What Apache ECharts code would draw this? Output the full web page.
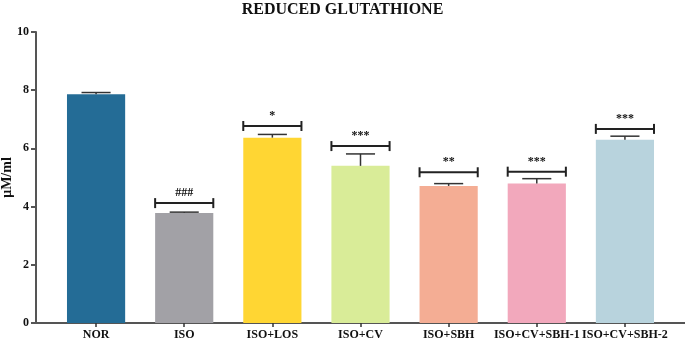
<!DOCTYPE html>
<html>
<head>
<meta charset="utf-8">
<script src="https://cdn.jsdelivr.net/npm/echarts@6/dist/echarts.min.js"></script>
<style>
  html, body { margin: 0; padding: 0; background: #fff; }
  #chart { width: 685px; height: 341px; }
</style>
</head>
<body>
<div id="chart"></div>
<script>
const groups = ["NOR", "ISO", "ISO+LOS", "ISO+CV", "ISO+SBH", "ISO+CV+SBH-1", "ISO+CV+SBH-2"];
const means = [7.86, 3.78, 6.37, 5.4, 4.71, 4.79, 6.3];
const errors = [0.06, 0.03, 0.11, 0.41, 0.08, 0.17, 0.12];
const colors = ["#246C96", "#A2A1A6", "#FFD633", "#D9EC98", "#F4AD94", "#F2A8BC", "#B8D3DD"];
const marks = ["", "###", "*", "***", "**", "***", "***"];
const markLevel = [null, 4.12, 6.77, 6.08, 5.18, 5.2, 6.67];
const yTicks = [0, 2, 4, 6, 8, 10];

const serif = "'Liberation Serif', 'DejaVu Serif', serif";

const chart = echarts.init(document.getElementById("chart"));

const option = {
  animation: false,
  title: {
    text: "REDUCED GLUTATHIONE",
    left: "center",
    top: -3,
    textStyle: { fontFamily: serif, fontWeight: "bold", fontSize: 16, color: "#111" }
  },
  grid: [
    { left: 36, right: 0, top: 32, bottom: 18, outerBoundsMode: "none", containLabel: false },
    { left: 52, right: 16, top: 32, bottom: 18, outerBoundsMode: "none", containLabel: false }
  ],
  xAxis: [
    {
      gridIndex: 0, type: "value", min: 0, max: 1,
      axisLine: { show: true, lineStyle: { color: "#555", width: 2 } },
      axisTick: { show: false }, axisLabel: { show: false }, splitLine: { show: false }
    },
    {
      gridIndex: 1, type: "category", data: groups,
      axisLine: { show: false },
      axisTick: { show: true, alignWithLabel: true, length: 4, lineStyle: { color: "#333", width: 1.5 } },
      axisLabel: { fontFamily: serif, fontWeight: "bold", fontSize: 12, color: "#111", margin: 6, interval: 0 }
    }
  ],
  yAxis: [
    {
      gridIndex: 0, type: "value", min: 0, max: 10, interval: 2,
      name: "μM/ml", nameLocation: "middle", nameGap: 22, nameMoveOverlap: false,
      nameTextStyle: { fontFamily: serif, fontWeight: "bold", fontSize: 14, color: "#111" },
      axisLine: { show: true, lineStyle: { color: "#555", width: 2 } },
      axisTick: { show: true, length: 5, lineStyle: { color: "#555", width: 2 } },
      axisLabel: {
        fontFamily: serif, fontWeight: "bold", fontSize: 12, color: "#111", margin: 7,
        formatter: v => (yTicks.includes(v) ? String(v) : "")
      },
      splitLine: { show: false }
    },
    {
      gridIndex: 1, type: "value", min: 0, max: 10, show: false
    }
  ],
  series: [
    {
      type: "bar",
      xAxisIndex: 1, yAxisIndex: 1,
      barWidth: "66%",
      data: means.map((v, i) => ({ value: v, itemStyle: { color: colors[i] } })),
      z: 2
    },
    {
      // error bars (upper only)
      type: "custom",
      xAxisIndex: 1, yAxisIndex: 1,
      data: means.map((v, i) => [i, v, v + errors[i]]),
      renderItem: (params, api) => {
        const top = api.coord([api.value(0), api.value(1)]);
        const hi = api.coord([api.value(0), api.value(2)]);
        const half = api.size([1, 0])[0] * 0.66 / 4;
        const st = { stroke: "#333", lineWidth: 1.5 };
        return {
          type: "group",
          children: [
            { type: "line", shape: { x1: top[0], y1: top[1], x2: hi[0], y2: hi[1] }, style: st },
            { type: "line", shape: { x1: hi[0] - half, y1: hi[1], x2: hi[0] + half, y2: hi[1] }, style: st }
          ]
        };
      },
      z: 3
    },
    {
      // significance brackets with marks
      type: "custom",
      xAxisIndex: 1, yAxisIndex: 1,
      data: markLevel.map((v, i) => [i, v]).filter(d => d[1] != null),
      renderItem: (params, api) => {
        const idx = api.value(0);
        const p = api.coord([idx, api.value(1)]);
        const half = api.size([1, 0])[0] * 0.66 / 2;
        const st = { stroke: "#222", lineWidth: 2 };
        return {
          type: "group",
          children: [
            { type: "line", shape: { x1: p[0] - half, y1: p[1], x2: p[0] + half, y2: p[1] }, style: st },
            { type: "line", shape: { x1: p[0] - half, y1: p[1] - 5, x2: p[0] - half, y2: p[1] + 5 }, style: st },
            { type: "line", shape: { x1: p[0] + half, y1: p[1] - 5, x2: p[0] + half, y2: p[1] + 5 }, style: st },
            {
              type: "text",
              style: {
                x: p[0], y: p[1] - 4,
                text: marks[idx],
                fill: "#111",
                font: "bold 12px " + serif,
                textAlign: "center", textVerticalAlign: "bottom"
              }
            }
          ]
        };
      },
      z: 4
    }
  ]
};

chart.setOption(option);
</script>
</body>
</html>
